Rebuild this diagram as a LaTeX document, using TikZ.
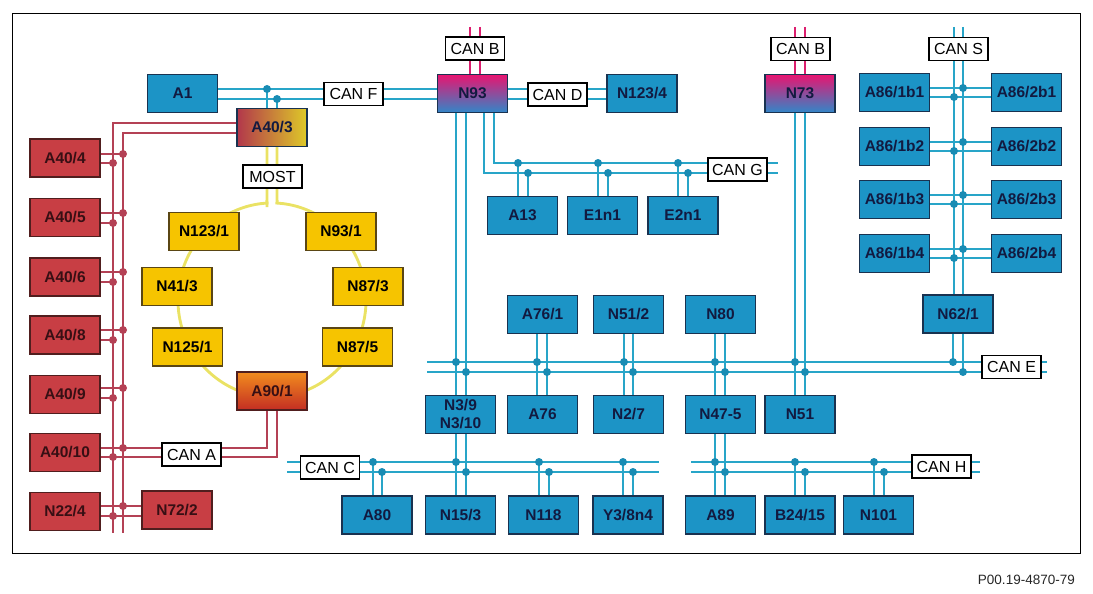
\documentclass[tikz,border=0pt]{standalone}
\usepackage{fontspec}
\setmainfont{Liberation Sans}
\pgfdeclarelayer{background}
\pgfsetlayers{background,main}
\definecolor{boxblue}{RGB}{28,148,198}
\definecolor{bordblue}{RGB}{25,50,80}
\definecolor{txtblue}{RGB}{18,26,64}
\definecolor{boxred}{RGB}{200,62,68}
\definecolor{bordred}{RGB}{80,30,30}
\definecolor{txtred}{RGB}{55,15,20}
\definecolor{boxyel}{RGB}{246,196,0}
\definecolor{bordyel}{RGB}{90,70,20}
\definecolor{busblue}{RGB}{40,165,200}
\definecolor{dotblue}{RGB}{25,140,180}
\definecolor{busred}{RGB}{180,65,85}
\definecolor{ringyel}{RGB}{234,226,100}
\definecolor{magline}{RGB}{220,30,110}
\definecolor{magtop}{RGB}{232,20,112}
\definecolor{magmid}{RGB}{135,80,170}
\definecolor{magbot}{RGB}{50,135,200}
\definecolor{a40left}{RGB}{178,55,75}
\definecolor{a40mid}{RGB}{30,150,200}
\definecolor{a40right}{RGB}{222,202,40}
\definecolor{a90top}{RGB}{242,140,30}
\definecolor{a90bot}{RGB}{195,45,35}
\tikzset{
  ecu/.style={rectangle, minimum width=70pt, minimum height=38pt, inner sep=0pt,
    line width=1.2pt, align=center, font=\fontsize{15.5}{17.5}\selectfont\bfseries},
  bluebox/.style={ecu, fill=boxblue, draw=bordblue, text=txtblue},
  redbox/.style={ecu, fill=boxred, draw=bordred, text=txtred},
  yelbox/.style={ecu, fill=boxyel, draw=bordyel, text=black},
  gwbox/.style={ecu, draw=bordblue, text=txtblue, top color=magtop, middle color=magmid, bottom color=magbot},
  canlabel/.style={rectangle, minimum width=59pt, minimum height=23pt, inner sep=0pt,
    fill=white, draw=black, line width=1.3pt, font=\fontsize{16}{18}\selectfont},
  bus/.style={draw=busblue, line width=2.3pt},
  magbus/.style={draw=magline, line width=2.3pt},
  redbus/.style={draw=busred, line width=2.6pt},
  ring/.style={draw=ringyel, line width=2.8pt},
  bdot/.style={fill=dotblue},
  rdot/.style={fill=busred},
}
\begin{document}
\begin{tikzpicture}[x=1pt,y=-1pt]
\useasboundingbox (0,0) rectangle (1093,594);
\draw[line width=1pt] (12,14) rectangle (1080,553);

% ---------- blue / gateway nodes ----------
\node[bluebox] (a1) at (182.5,93.5) {A1};
\node[gwbox] (n93) at (472.5,93.5) {N93};
\node[bluebox] (n1234) at (642,93.5) {N123/4};
\node[gwbox] (n73) at (800,93.5) {N73};
\node[bluebox] (a861b1) at (894.5,92.5) {A86/1b1};
\node[bluebox] (a862b1) at (1026.5,92.5) {A86/2b1};
\node[bluebox] (a861b2) at (894.5,146.5) {A86/1b2};
\node[bluebox] (a862b2) at (1026.5,146.5) {A86/2b2};
\node[bluebox] (a861b3) at (894.5,199.5) {A86/1b3};
\node[bluebox] (a862b3) at (1026.5,199.5) {A86/2b3};
\node[bluebox] (a861b4) at (894.5,253.5) {A86/1b4};
\node[bluebox] (a862b4) at (1026.5,253.5) {A86/2b4};
\node[bluebox] (n621) at (958,314) {N62/1};
\node[bluebox] (a13) at (522.5,215.5) {A13};
\node[bluebox] (e1n1) at (602.5,215.5) {E1n1};
\node[bluebox] (e2n1) at (683,215.5) {E2n1};
\node[bluebox] (a761) at (542.5,314.5) {A76/1};
\node[bluebox] (n512) at (628.5,314.5) {N51/2};
\node[bluebox] (n80) at (720.5,314.5) {N80};
\node[bluebox, font=\fontsize{15.5}{18}\selectfont\bfseries] (n39) at (460.5,414.5) {N3/9\\N3/10};
\node[bluebox] (a76) at (542.5,414.5) {A76};
\node[bluebox] (n27) at (628.5,414.5) {N2/7};
\node[bluebox] (n475) at (720.5,414.5) {N47-5};
\node[bluebox] (n51) at (800,414.5) {N51};
\node[bluebox] (a80) at (377,515) {A80};
\node[bluebox] (n153) at (460.5,515) {N15/3};
\node[bluebox] (n118) at (543.5,515) {N118};
\node[bluebox] (y38n4) at (628,515) {Y3/8n4};
\node[bluebox] (a89) at (720.5,515) {A89};
\node[bluebox] (b2415) at (800,515) {B24/15};
\node[bluebox] (n101) at (878.5,515) {N101};

% ---------- red nodes ----------
\node[redbox] (a404) at (65,158) {A40/4};
\node[redbox] (a405) at (65,217.5) {A40/5};
\node[redbox] (a406) at (65,277) {A40/6};
\node[redbox] (a408) at (65,335) {A40/8};
\node[redbox] (a409) at (65,394.5) {A40/9};
\node[redbox] (a4010) at (65,452.5) {A40/10};
\node[redbox] (n224) at (65,511.5) {N22/4};
\node[redbox] (n722) at (177,510) {N72/2};

% ---------- MOST ring ----------
\node[ecu, draw=bordblue, text=txtblue, left color=a40left, middle color=a40mid, right color=a40right] (a403) at (272,127.5) {A40/3};
\node[ecu, draw=bordred, text=txtred, top color=a90top, bottom color=a90bot] (a901) at (272,391) {A90/1};
\node[yelbox] (n1231) at (204,231.5) {N123/1};
\node[yelbox] (n931) at (341,231.5) {N93/1};
\node[yelbox] (n413) at (177,286.5) {N41/3};
\node[yelbox] (n873) at (368,286.5) {N87/3};
\node[yelbox] (n1251) at (187.5,347) {N125/1};
\node[yelbox] (n875) at (357.5,347) {N87/5};

% ---------- labels ----------
\node[canlabel] (canbl) at (475,48.5) {CAN B};
\node[canlabel] (canbr) at (800.5,49) {CAN B};
\node[canlabel] (cans) at (958.5,49) {CAN S};
\node[canlabel] (canf) at (353.5,94) {CAN F};
\node[canlabel] (cand) at (557.5,94.5) {CAN D};
\node[canlabel] (cang) at (737.5,169.5) {CAN G};
\node[canlabel] (most) at (272.5,176.5) {MOST};
\node[canlabel] (cane) at (1011.5,367) {CAN E};
\node[canlabel] (canc) at (330,467.5) {CAN C};
\node[canlabel] (canh) at (941.5,466.5) {CAN H};
\node[canlabel] (cana) at (191.5,454.5) {CAN A};

\node[anchor=east, inner sep=0pt, text=black!85, font=\fontsize{13.5}{16}\selectfont] (foot) at (1075,580) {P00.19-4870-79};

\coordinate (ctop1) at (470,27);
\coordinate (ctop2) at (480,27);
\coordinate (ctop3) at (795,27);
\coordinate (ctop4) at (805,27);
\coordinate (ctop5) at (954,27);
\coordinate (ctop6) at (963,27);
\coordinate (ge1) at (778,163);
\coordinate (ge2) at (778,173);
\coordinate (ee1) at (427,362);
\coordinate (ee2) at (427,372);
\coordinate (ee3) at (1047,362);
\coordinate (ee4) at (1047,372);
\coordinate (ce1) at (287,462);
\coordinate (ce2) at (287,472);
\coordinate (ce3) at (659,462);
\coordinate (ce4) at (659,472);
\coordinate (he1) at (691,462);
\coordinate (he2) at (691,472);
\coordinate (he3) at (980,462);
\coordinate (he4) at (980,472);
\coordinate (rb1) at (113,533);
\coordinate (rb2) at (123,533);

\begin{pgfonlayer}{background}
% MOST ring
\draw[ring, rounded corners=4pt] (a403.south -| 267,0) -- (267,203.2)
  -- plot[domain=-93.05:-446.95, samples=240, smooth] ({272+94*cos(\x)},{300+97*sin(\x)})
  -- (a403.south -| 277,0);

% CAN F / CAN D
\draw[bus] (a1.east |- 0,89) -- (n93.west |- 0,89);
\draw[bus] (a1.east |- 0,99) -- (n93.west |- 0,99);
\draw[bus] (267,89) -- (a403.north -| 267,0);
\draw[bus] (277,99) -- (a403.north -| 277,0);
\draw[bus] (n93.east |- 0,89) -- (n1234.west |- 0,89);
\draw[bus] (n93.east |- 0,99) -- (n1234.west |- 0,99);

% CAN B
\draw[magbus] (ctop1) -- (n93.north -| ctop1);
\draw[magbus] (ctop2) -- (n93.north -| ctop2);
\draw[magbus] (ctop3) -- (n73.north -| ctop3);
\draw[magbus] (ctop4) -- (n73.north -| ctop4);

% N93 down to CAN E / CAN C
\draw[bus] (n93.south -| 456,0) -- (n153.north -| 456,0);
\draw[bus] (n93.south -| 466,0) -- (n153.north -| 466,0);

% CAN G
\draw[bus] (n93.south -| 494,0) |- (ge1);
\draw[bus] (n93.south -| 484,0) |- (ge2);
\draw[bus] (518,163) -- (a13.north -| 518,0);
\draw[bus] (528,173) -- (a13.north -| 528,0);
\draw[bus] (598,163) -- (e1n1.north -| 598,0);
\draw[bus] (608,173) -- (e1n1.north -| 608,0);
\draw[bus] (678,163) -- (e2n1.north -| 678,0);
\draw[bus] (688,173) -- (e2n1.north -| 688,0);

% CAN S
\draw[bus] (ctop5) -- (n621.north -| ctop5);
\draw[bus] (ctop6) -- (n621.north -| ctop6);
\foreach \r/\ya/\yb in {1/88/97, 2/142/151, 3/195/204, 4/249/258}{
  \draw[bus] (a861b\r.east |- 0,\ya) -- (a862b\r.west |- 0,\ya);
  \draw[bus] (a861b\r.east |- 0,\yb) -- (a862b\r.west |- 0,\yb);
}
\draw[bus] (n621.south -| 953,0) -- (953,362);
\draw[bus] (n621.south -| 963,0) -- (963,372);

% CAN E
\draw[bus] (ee1) -- (ee3);
\draw[bus] (ee2) -- (ee4);
\draw[bus] (a761.south -| 537,0) -- (a76.north -| 537,0);
\draw[bus] (a761.south -| 547,0) -- (a76.north -| 547,0);
\draw[bus] (n512.south -| 624,0) -- (n27.north -| 624,0);
\draw[bus] (n512.south -| 633,0) -- (n27.north -| 633,0);
\draw[bus] (n80.south -| 715,0) -- (a89.north -| 715,0);
\draw[bus] (n80.south -| 725,0) -- (a89.north -| 725,0);
\draw[bus] (n73.south -| 795,0) -- (n51.north -| 795,0);
\draw[bus] (n73.south -| 805,0) -- (n51.north -| 805,0);

% CAN C
\draw[bus] (ce1) -- (ce3);
\draw[bus] (ce2) -- (ce4);
\draw[bus] (373,462) -- (a80.north -| 373,0);
\draw[bus] (382,472) -- (a80.north -| 382,0);
\draw[bus] (539,462) -- (n118.north -| 539,0);
\draw[bus] (549,472) -- (n118.north -| 549,0);
\draw[bus] (623,462) -- (y38n4.north -| 623,0);
\draw[bus] (633,472) -- (y38n4.north -| 633,0);

% CAN H
\draw[bus] (he1) -- (he3);
\draw[bus] (he2) -- (he4);
\draw[bus] (795,462) -- (b2415.north -| 795,0);
\draw[bus] (805,472) -- (b2415.north -| 805,0);
\draw[bus] (874,462) -- (n101.north -| 874,0);
\draw[bus] (884,472) -- (n101.north -| 884,0);

% blue dots
\foreach \p in {(267,89),(277,99),(456,362),(466,372),(456,462),(466,472),
  (518,163),(528,173),(598,163),(608,173),(678,163),(688,173),
  (963,88),(954,97),(963,142),(954,151),(963,195),(954,204),(963,249),(954,258),
  (953,362),(963,372),(537,362),(547,372),(624,362),(633,372),(715,362),(725,372),
  (795,362),(805,372),(373,462),(382,472),(539,462),(549,472),(623,462),(633,472),
  (715,462),(725,472),(795,462),(805,472),(874,462),(884,472)}
  \fill[bdot] \p circle[radius=4pt];

% red bus (CAN A)
\draw[redbus] (a403.west |- 0,123) -| (rb1);
\draw[redbus] (a403.west |- 0,133) -| (rb2);
\foreach \n/\ya/\yb in {a404/154/163, a405/213/223, a406/272/282, a408/330/340, a409/388/398}{
  \draw[redbus] (\n.east |- 0,\ya) -- (123,\ya);
  \draw[redbus] (\n.east |- 0,\yb) -- (113,\yb);
  \fill[rdot] (123,\ya) circle[radius=4pt];
  \fill[rdot] (113,\yb) circle[radius=4pt];
}
\draw[redbus] (a4010.east |- 0,448) -| (a901.south -| 267,0);
\draw[redbus] (a4010.east |- 0,457) -| (a901.south -| 277,0);
\fill[rdot] (123,448) circle[radius=4pt];
\fill[rdot] (113,457) circle[radius=4pt];
\draw[redbus] (n224.east |- 0,506) -- (n722.west |- 0,506);
\draw[redbus] (n224.east |- 0,516) -- (n722.west |- 0,516);
\fill[rdot] (123,506) circle[radius=4pt];
\fill[rdot] (113,516) circle[radius=4pt];
\end{pgfonlayer}
\end{tikzpicture}
\end{document}
